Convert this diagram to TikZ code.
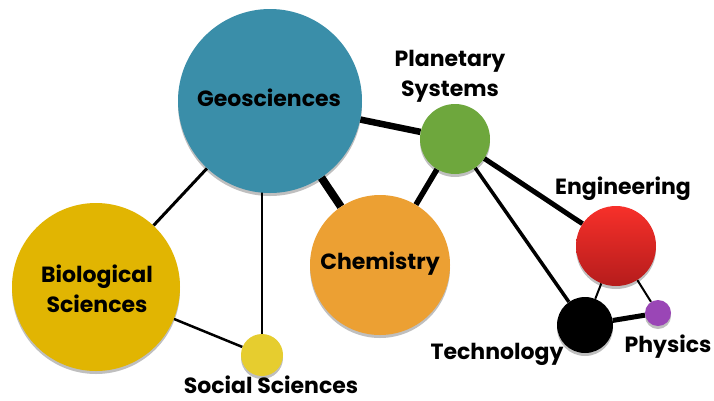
\documentclass[tikz,border=0pt]{standalone}
\usepackage{fontspec}
\setmainfont{Poppins}
\usetikzlibrary{backgrounds,shadows}
\definecolor{geoC}{HTML}{3A8EA9}
\definecolor{planC}{HTML}{6EA73D}
\definecolor{chemC}{HTML}{ECA033}
\definecolor{bioC}{HTML}{E1B502}
\definecolor{socC}{HTML}{E6CD2F}
\definecolor{engTop}{HTML}{F7302A}
\definecolor{engBot}{HTML}{B51C1C}
\definecolor{physC}{HTML}{9A46B6}
\begin{document}
\begin{tikzpicture}[x=1pt,y=-1pt,
  ball/.style={circle, inner sep=0pt, minimum size=#1, draw=none,
    drop shadow={opacity=0.25, shadow xshift=0pt, shadow yshift=-3pt, fill=black}},
  lab/.style={font=\bfseries\fontsize{22}{30}\selectfont, align=center, text=black, inner sep=0pt},
  link/.style={draw=black, line width=#1}]
\useasboundingbox (0,0) rectangle (714,400);

\node[ball=184, fill=geoC] (geo) at (270,101) {};
\node[ball=70, fill=planC] (plan) at (455,139) {};
\node[ball=140, fill=chemC] (chem) at (380,265) {};
\node[ball=168, fill=bioC] (bio) at (96,287) {};
\node[ball=42, fill=socC] (soc) at (262,355) {};
\node[ball=80, top color=engTop, bottom color=engBot] (eng) at (616,246) {};
\node[ball=56, fill=black] (tech) at (585,325) {};
\node[ball=26, fill=physC] (phys) at (658,313) {};

\node[lab] (geoL) at (269,98) {Geosciences};
\node[lab] (chemL) at (380,264) {Chemistry};
\node[lab] (bioL) at (97,289) {Biological\\Sciences};
\node[lab] (planL) at (450,76) {Planetary\\Systems};
\node[lab] (socL) at (271,385) {Social Sciences};
\node[lab] (engL) at (623,189) {Engineering};
\node[lab] (techL) at (497,354) {Technology};
\node[lab] (physL) at (668,347) {Physics};

\begin{pgfonlayer}{background}
  \fill[white] (0,0) rectangle (714,400);
  \draw[link=3pt] (geo) -- (bio);
  \draw[link=1.5pt] (soc.center) -- (soc.center |- geo.center);
  \draw[link=2.5pt] (bio) -- (soc);
  \draw[link=6.5pt] (geo) -- (plan);
  \draw[link=8pt] (geo) -- (chem);
  \draw[link=5.5pt] (chem) -- (plan);
  \draw[link=5pt] (plan) -- (eng);
  \draw[link=3.5pt] (plan) -- (tech);
  \draw[link=2pt] (eng) -- (tech);
  \draw[link=2pt] (eng) -- (phys);
  \draw[link=5pt] (tech) -- (phys);
\end{pgfonlayer}
\end{tikzpicture}
\end{document}
